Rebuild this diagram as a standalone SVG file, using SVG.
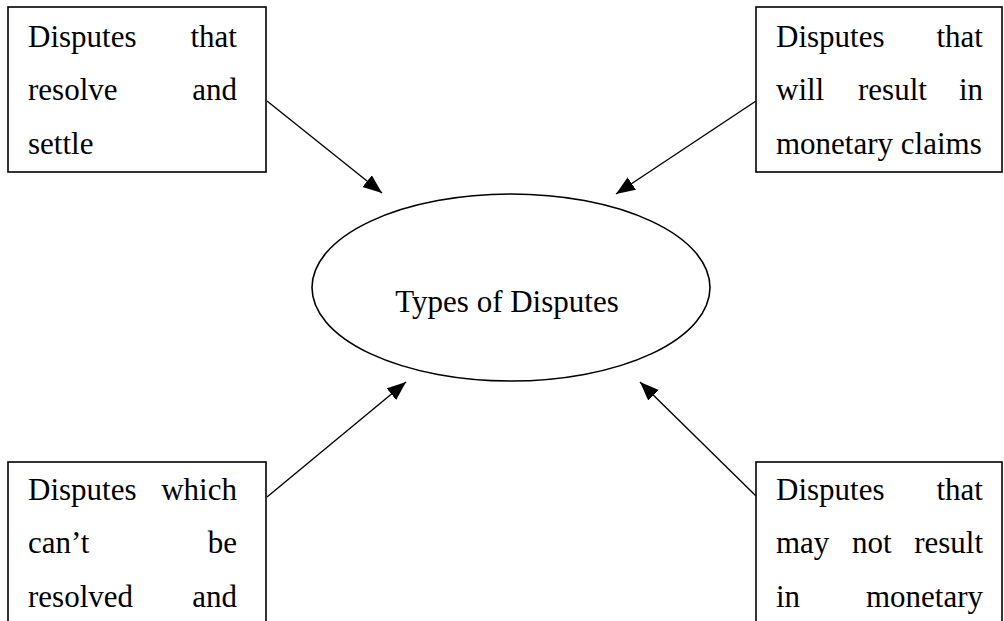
<svg xmlns="http://www.w3.org/2000/svg" width="1004" height="621" viewBox="0 0 1004 621">
<defs>
<style>
.box{fill:#fff;stroke:#000;stroke-width:1.6}
.t{font-family:"Liberation Serif","Times New Roman",serif;font-size:31px;fill:#000}
.e{text-anchor:end}
.m{text-anchor:middle}
.c{stroke:#000;stroke-width:1.4;fill:none;marker-end:url(#ah)}
</style>
<marker id="ah" markerUnits="userSpaceOnUse" markerWidth="20" markerHeight="16" refX="19" refY="7.5" orient="auto">
<path d="M0,0 L19,7.5 L0,15 z" fill="#000"/>
</marker>
</defs>
<rect width="1004" height="621" fill="#fff"/>
<g id="connectors">
<line class="c" x1="267" y1="101" x2="382" y2="193"/>
<line class="c" x1="756" y1="101" x2="616" y2="194"/>
<line class="c" x1="267" y1="497" x2="406" y2="382"/>
<line class="c" x1="756" y1="496" x2="640" y2="382"/>
</g>
<g id="center">
<ellipse cx="511" cy="287.5" rx="199" ry="93.5" fill="#fff" stroke="#000" stroke-width="1.6"/>
<text class="t m" x="507" y="312">Types of Disputes</text>
</g>
<g id="topleft">
<rect class="box" x="8" y="7" width="258" height="165"/>
<text class="t" x="28" y="47">Disputes</text><text class="t e" x="237" y="47">that</text>
<text class="t" x="28" y="100">resolve</text><text class="t e" x="237" y="100">and</text>
<text class="t" x="28" y="154">settle</text>
</g>
<g id="topright">
<rect class="box" x="756" y="7" width="246" height="165"/>
<text class="t" x="776" y="47">Disputes</text><text class="t e" x="983" y="47">that</text>
<text class="t" x="776" y="100">will</text><text class="t" x="858" y="100">result</text><text class="t e" x="983" y="100">in</text>
<text class="t" x="776" y="154">monetary claims</text>
</g>
<g id="bottomleft">
<rect class="box" x="8" y="462" width="258" height="170"/>
<text class="t" x="28" y="500">Disputes</text><text class="t e" x="237" y="500">which</text>
<text class="t" x="28" y="553">can’t</text><text class="t e" x="237" y="553">be</text>
<text class="t" x="28" y="607">resolved</text><text class="t e" x="237" y="607">and</text>
</g>
<g id="bottomright">
<rect class="box" x="756" y="462" width="246" height="170"/>
<text class="t" x="776" y="500">Disputes</text><text class="t e" x="983" y="500">that</text>
<text class="t" x="776" y="553">may</text><text class="t" x="852" y="553">not</text><text class="t e" x="983" y="553">result</text>
<text class="t" x="776" y="607">in</text><text class="t e" x="983" y="607">monetary</text>
</g>
</svg>
